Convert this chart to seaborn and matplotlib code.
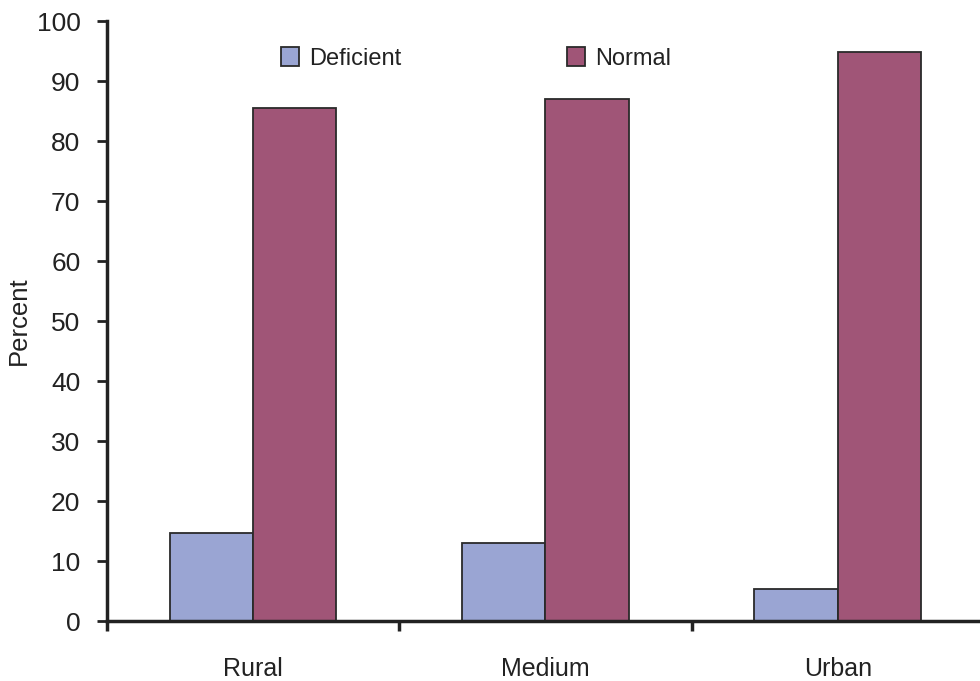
import pandas as pd
import numpy as np
import matplotlib
matplotlib.use('Agg')
import matplotlib.pyplot as plt
import seaborn as sns

# Values
areas = ['Rural', 'Medium', 'Urban']
deficient = [14.7, 13.0, 5.3]
normal = [85.5, 87.0, 94.8]
groups = ['Deficient', 'Normal']
colors = ['#9aa5d3', '#a05577']

df = pd.DataFrame({
    'Area': areas * 2,
    'Status': [groups[0]] * 3 + [groups[1]] * 3,
    'Percent': deficient + normal,
})

sns.set_style('white')
plt.rcParams['font.family'] = ['Liberation Sans', 'DejaVu Sans']

fig = plt.figure(figsize=(9.8, 6.81), dpi=100)
ax = fig.add_axes([0.109, 0.088, 0.895, 0.881])

sns.barplot(data=df, x='Area', y='Percent', hue='Status', palette=colors,
            saturation=1, width=0.57, edgecolor='#2a2a2a', linewidth=1.3, ax=ax)

ax.set_xlim(-0.5, 2.5)
ax.set_ylim(0, 100)
ax.set_yticks(np.arange(0, 101, 10))
ax.set_xlabel('')
ax.set_ylabel('Percent', fontsize=18.5, labelpad=4, color='#222222')

# category boundaries get the tick marks, labels sit at the centres
ax.set_xticks([-0.5, 0.5, 1.5, 2.5], minor=True)
ax.tick_params(axis='x', which='major', length=0, pad=26, labelsize=18, colors='#222222')
ax.tick_params(axis='x', which='minor', bottom=True, length=7, width=2.5,
               direction='out', color='#222222')
ax.tick_params(axis='y', length=7, width=2, direction='out', pad=12, labelsize=19,
               colors='#222222', left=True)

for side in ['top', 'right']:
    ax.spines[side].set_visible(False)
for side in ['left', 'bottom']:
    ax.spines[side].set_linewidth(2.5)
    ax.spines[side].set_color('#222222')

ax.legend_.remove()
handles = [plt.Rectangle((0, 0), 1, 1, facecolor=c, edgecolor='#2a2a2a', linewidth=1.3)
           for c in colors]
fig.legend(handles, groups, loc='center', bbox_to_anchor=(0.486, 0.914), ncol=2,
           frameon=False, fontsize=17, handlelength=0.75, handleheight=0.8,
           handletextpad=0.45, columnspacing=7.0, labelcolor='#222222')

fig.savefig('out.png', dpi=100)
